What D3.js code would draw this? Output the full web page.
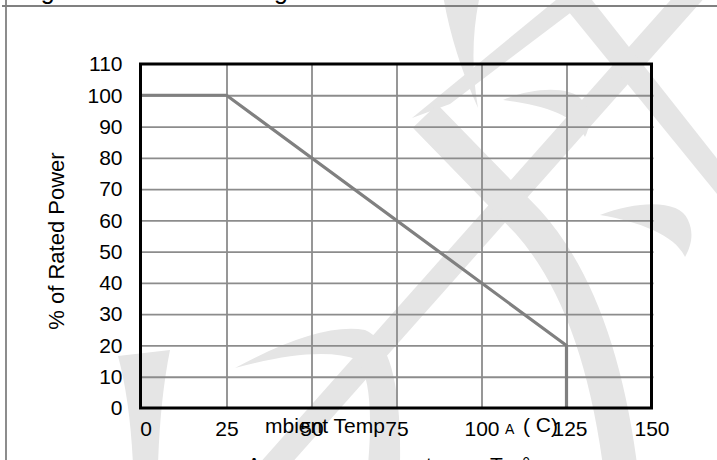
<!DOCTYPE html>
<html>
<head>
<meta charset="utf-8">
<script src="https://cdn.jsdelivr.net/npm/d3@7/dist/d3.min.js"></script>
<style>
  html, body { margin: 0; padding: 0; background: #fff; }
  svg { display: block; font-family: "Liberation Sans", Arial, sans-serif; }
</style>
</head>
<body>
<svg id="chart" width="717" height="460"></svg>
<script>
// ---- data ----
const xTicks = [0, 25, 50, 75, 100, 125, 150];
const yTicks = [0, 10, 20, 30, 40, 50, 60, 70, 80, 90, 100, 110];
const temps = [0, 25, 125, 125];
const power = [100, 100, 20, 0];
const yTitle = "% of Rated Power";

const svg = d3.select("#chart");
const W = 717, H = 460;
const plot = { left: 141.5, right: 651.5, top: 64, bottom: 408 };

const x = d3.scaleLinear().domain([0, 150]).range([plot.left, plot.right]);
const y = d3.scaleLinear().domain([0, 110]).range([plot.bottom, plot.top]);

// ---- watermark (decoration) ----
const wm = svg.append("g").attr("fill", "#e5e5e5").attr("stroke", "none");
wm.append("path").attr("d", "M675,-5 L707,-5 L290,465 L258,465 Z");
wm.append("path").attr("d", "M555,-5 L588,-5 L730,175 L730,210 Z");
wm.append("path").attr("d", "M562,-5 L594,-5 L450,104 L412,118 Z");
wm.append("path").attr("d", "M443,-5 L480,-5 Q468,50 478,108 Q452,50 443,-5 Z");
wm.append("path").attr("d", "M503,100 C530,88 570,85 582,100 C592,112 590,128 585,137 C575,115 545,105 503,100 Z");
wm.append("path").attr("d", "M600,215 C640,200 680,200 688,220 C695,235 690,248 685,257 C675,235 640,222 600,215 Z");
wm.append("path").attr("d", "M118,356 L170,350 Q160,400 158,465 L133,465 Q130,400 118,356 Z");
wm.append("path").attr("d", "M235,368 Q320,322 365,330 Q402,345 400,465 L368,465 Q375,385 358,360 Q320,345 235,368 Z");
wm.append("path")
  .attr("d", "M425,116 L528,222 Q598,300 620,465")
  .attr("fill", "none").attr("stroke", "#e5e5e5").attr("stroke-width", 34);

// ---- page frame ----
svg.append("line").attr("x1", 2).attr("x2", W).attr("y1", 6).attr("y2", 6)
  .attr("stroke", "#808080").attr("stroke-width", 2);
svg.append("line").attr("x1", 6).attr("x2", 6).attr("y1", 0).attr("y2", H)
  .attr("stroke", "#808080").attr("stroke-width", 1.8);

// cut-off title (only descenders visible)
svg.append("text").attr("x", 20).attr("y", -1.5).attr("font-size", 25).text("Figure 1");
svg.append("text").attr("x", 288).attr("y", -1.5).attr("font-size", 25)
  .attr("text-anchor", "end").text("Derating");

// ---- gridlines via axes ----
svg.append("g")
  .attr("transform", `translate(${plot.left},0)`)
  .call(d3.axisLeft(y).tickValues(yTicks.filter(v => v > 0 && v < 110))
    .tickSize(-(plot.right - plot.left) - 2).tickFormat(""))
  .call(g => g.select(".domain").remove())
  .call(g => g.selectAll(".tick line").attr("stroke", "#8c8c8c").attr("stroke-width", 1.8));

svg.append("g")
  .attr("transform", `translate(0,${plot.bottom})`)
  .call(d3.axisBottom(x).tickValues(xTicks.filter(v => v > 0 && v < 150))
    .tickSize(-(plot.bottom - plot.top)).tickFormat(""))
  .call(g => g.select(".domain").remove())
  .call(g => g.selectAll(".tick line").attr("stroke", "#8c8c8c").attr("stroke-width", 1.8));

// ---- data line ----
const pts = temps.map((t, i) => [t, power[i]]);
svg.append("path")
  .datum(pts)
  .attr("fill", "none")
  .attr("stroke", "#808080")
  .attr("stroke-width", 3.2)
  .attr("d", d3.line().x(d => x(d[0])).y(d => y(d[1])));

// ---- plot frame ----
svg.append("rect")
  .attr("x", plot.left - 1).attr("y", plot.top)
  .attr("width", plot.right - plot.left + 1).attr("height", plot.bottom - plot.top)
  .attr("fill", "none").attr("stroke", "#000").attr("stroke-width", 3);

// ---- tick labels via axes ----
svg.append("g")
  .attr("transform", `translate(${plot.left},0)`)
  .call(d3.axisLeft(y).tickValues(yTicks).tickSize(0).tickPadding(19))
  .call(g => g.select(".domain").remove())
  .call(g => g.selectAll(".tick text")
    .attr("font-family", "Liberation Sans, Arial, sans-serif")
    .attr("font-size", 21).attr("fill", "#000"));

svg.append("g")
  .attr("transform", `translate(0,${plot.bottom})`)
  .call(d3.axisBottom(x).tickValues(xTicks).tickSize(0).tickPadding(13))
  .call(g => g.select(".domain").remove())
  .call(g => g.selectAll(".tick text")
    .attr("font-family", "Liberation Sans, Arial, sans-serif")
    .attr("font-size", 21).attr("fill", "#000")
    .attr("dx", d => d === 0 ? 4 : (d === 125 ? 3 : 0)));

// ---- axis titles ----
svg.append("text")
  .attr("transform", "translate(64,241) rotate(-90)")
  .attr("text-anchor", "middle").attr("font-size", 22).text(yTitle);

svg.append("text").attr("x", 265).attr("y", 433).attr("font-size", 21).text("mbient Temp");
svg.append("text").attr("x", 505).attr("y", 434).attr("font-size", 14).text("A");
svg.append("text").attr("x", 523).attr("y", 433).attr("font-size", 21).attr("xml:space", "preserve")
  .call(t => {
    t.append("tspan").text("( ");
    t.append("tspan").attr("dy", -1).text("C");
    t.append("tspan").attr("dy", 1).text(")");
  });

// cut-off second line of x title (only tops visible)
[["A", 247], ["t", 426], ["T", 490], ["°", 522]].forEach(([s, px]) => {
  svg.append("text").attr("x", px).attr("y", 472).attr("font-size", 21).text(s);
});
</script>
</body>
</html>
